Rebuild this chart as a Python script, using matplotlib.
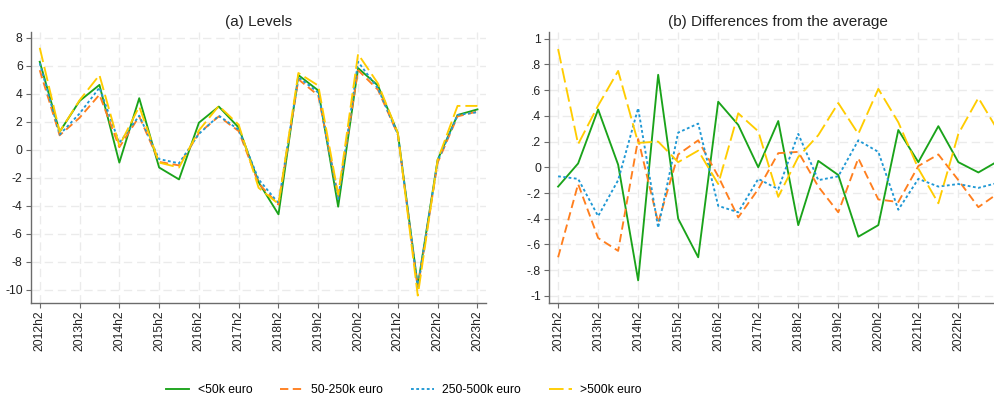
import numpy as np
import matplotlib
matplotlib.use("Agg")
import matplotlib.pyplot as plt

plt.rcParams.update({
    "font.family": ["Liberation Sans", "DejaVu Sans"],
    "lines.scale_dashes": False,
})

# half-year periods 2012h2 ... 2023h2
periods = [f"{y}h{h}" for y in range(2012, 2024) for h in (1, 2)][1:]

labels = ["<50k euro", "50-250k euro", "250-500k euro", ">500k euro"]

# (a) levels
lev_lt50 = [6.3, 1.3, 3.5, 4.65, -0.9, 3.7, -1.25, -2.1, 1.95, 3.1, 1.6, -2.3,
            -4.6, 5.35, 4.25, -4.05, 5.85, 4.6, 1.2, -9.7, -0.7, 2.5, 2.9]
lev_50_250 = [5.7, 1.05, 2.3, 3.95, 0.2, 2.4, -0.85, -1.1, 1.2, 2.4, 1.35, -2.4,
              -3.9, 5.05, 3.9, -3.3, 5.7, 4.3, 1.1, -9.9, -0.9, 2.4, 2.75]
lev_250_500 = [6.2, 1.1, 2.6, 4.45, 0.5, 2.45, -0.65, -0.95, 1.15, 2.45, 1.45, -2.1,
               -3.8, 5.2, 4.1, -3.5, 6.3, 4.4, 1.1, -9.8, -0.8, 2.5, 2.7]
lev_gt500 = [7.3, 1.3, 3.55, 5.35, 0.3, 3.1, -0.9, -1.25, 1.4, 3.15, 1.8, -2.7,
             -3.85, 5.5, 4.6, -3.2, 6.85, 4.75, 1.2, -10.4, -0.7, 3.15, 3.15]

# (b) differences from the average
dif_lt50 = [-0.15, 0.03, 0.45, 0.02, -0.88, 0.72, -0.40, -0.70, 0.51, 0.33, 0.0, 0.36,
            -0.45, 0.05, -0.06, -0.54, -0.45, 0.29, 0.04, 0.32, 0.04, -0.04, 0.05]
dif_50_250 = [-0.70, -0.13, -0.55, -0.65, 0.22, -0.43, 0.10, 0.21, -0.07, -0.39, -0.17, 0.11,
              0.12, -0.15, -0.35, 0.07, -0.25, -0.27, 0.01, 0.10, -0.10, -0.31, -0.20]
dif_250_500 = [-0.07, -0.09, -0.38, -0.10, 0.46, -0.47, 0.27, 0.34, -0.30, -0.35, -0.09, -0.17,
               0.26, -0.10, -0.07, 0.21, 0.12, -0.33, -0.09, -0.15, -0.13, -0.16, -0.12]
dif_gt500 = [0.92, 0.18, 0.48, 0.75, 0.19, 0.20, 0.04, 0.13, -0.13, 0.42, 0.28, -0.23,
             0.08, 0.25, 0.50, 0.26, 0.61, 0.35, -0.01, -0.28, 0.26, 0.54, 0.28]

colors = ["#1aa31a", "#ff7f1e", "#1f98d4", "#ffcc00"]
styles = ["-", (0, (6.0, 3.2)), (0, (2.0, 1.8)), (0, (10.5, 3.6))]
lw = 1.35

fig = plt.figure(figsize=(9.95, 3.97), dpi=100)
ax1 = fig.add_axes([31 / 995, 1 - 303.3 / 397, 455 / 995, 271.6 / 397])
# right panel runs past the figure edge, so its last period is cut off
ax2 = fig.add_axes([549.3 / 995, 1 - 303.3 / 397, 457.7 / 995, 271.6 / 397])

x = np.arange(len(periods))

def style_axes(ax, yticks, ylabels, ylim, xticks):
    for s in ("top", "right"):
        ax.spines[s].set_visible(False)
    for s in ("left", "bottom"):
        ax.spines[s].set_color("#6b6b6b")
        ax.spines[s].set_linewidth(1.0)
    ax.set_xlim(-0.44, 22.43)
    ax.set_ylim(*ylim)
    ax.set_yticks(yticks)
    ax.set_yticklabels(ylabels)
    ax.set_xticks(xticks)
    ax.set_xticklabels([periods[i] for i in xticks], rotation=90)
    ax.tick_params(axis="both", labelsize=8.7, color="#6b6b6b", length=3.5,
                   width=0.8, labelcolor="#222222")
    ax.tick_params(axis="x", pad=1.5)
    ax.tick_params(axis="y", pad=2.5)
    ax.grid(True, color="#ebebeb", linestyle=(0, (6, 3.5)), linewidth=1.0)
    ax.set_axisbelow(True)

series_a = [lev_lt50, lev_50_250, lev_250_500, lev_gt500]
series_b = [dif_lt50, dif_50_250, dif_250_500, dif_gt500]

handles = []
for vals, c, ls, lab in zip(series_a, colors, styles, labels):
    h, = ax1.plot(x, vals, color=c, linestyle=ls, linewidth=lw, label=lab)
    handles.append(h)
for vals, c, ls in zip(series_b, colors, styles):
    ax2.plot(x, vals, color=c, linestyle=ls, linewidth=lw)

yt1 = np.arange(-10, 9, 2)
style_axes(ax1, yt1, [str(v) for v in yt1], (-10.95, 8.45), list(range(0, 23, 2)))

yt2 = np.round(np.arange(-1.0, 1.01, 0.2), 1)
def stata_fmt(v):
    if v == 0:
        return "0"
    return f"{v:g}".replace("0.", ".")
style_axes(ax2, yt2, [stata_fmt(v) for v in yt2], (-1.058, 1.055), list(range(0, 21, 2)))

ax1.set_title("(a) Levels", fontsize=11, pad=4, color="#222222")
ax2.set_title("(b) Differences from the average", fontsize=11, pad=4, color="#222222")

fig.legend(handles=handles, labels=labels, loc="center", ncol=4,
           bbox_to_anchor=(404 / 995, 1 - 390 / 397), frameon=False,
           fontsize=8.7, handlelength=1.9, handletextpad=0.7, columnspacing=2.3)

fig.savefig("out.png", dpi=100)
